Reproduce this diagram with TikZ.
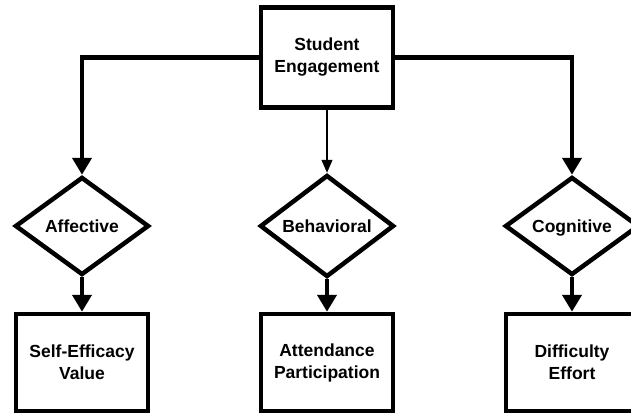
\documentclass[tikz,border=0pt]{standalone}
\usepackage{fontspec}
\setmainfont{Liberation Sans}
\usetikzlibrary{shapes.geometric,arrows.meta}

\begin{document}
\begin{tikzpicture}[x=1pt,y=-1pt,
  font=\fontsize{17.5}{22}\selectfont\bfseries,
  box/.style={draw=black, line width=4.5pt, align=center, minimum width=132pt, minimum height=97pt, inner sep=0pt},
  choice/.style={draw=black, line width=4.5pt, shape=diamond, minimum width=134pt, minimum height=98pt, inner sep=0pt, text height=12.5pt, text depth=0pt},
  thick arrow/.style={line width=4.5pt, -{Triangle[length=17pt,width=19pt]}},
  thin arrow/.style={line width=1.3pt, -{Triangle[length=13pt,width=11pt]}}]
  \useasboundingbox (0,0) rectangle (631,415);

  \node[box, minimum height=100pt](engagement) at (327,57.5) {Student\\Engagement};

  \node[choice](affective)  at (82,226)  {Affective};
  \node[choice](behavioral) at (327,226) {Behavioral};
  \node[choice](cognitive)  at (572,226) {Cognitive};

  \node[box](selfefficacy) at (82,362.5)  {Self-Efficacy\\Value};
  \node[box](attendance)   at (327,362.5) {Attendance\\Participation};
  \node[box](difficulty)   at (572,362.5) {Difficulty\\Effort};

  \draw[thick arrow] (engagement.west) -| (affective.north);
  \draw[thick arrow] (engagement.east) -| (cognitive.north);
  \draw[thin arrow]  (engagement.south) -- (behavioral.north);

  \draw[thick arrow] (affective.south)  -- (selfefficacy.north);
  \draw[thick arrow] (behavioral.south) -- (attendance.north);
  \draw[thick arrow] (cognitive.south)  -- (difficulty.north);
\end{tikzpicture}
\end{document}
